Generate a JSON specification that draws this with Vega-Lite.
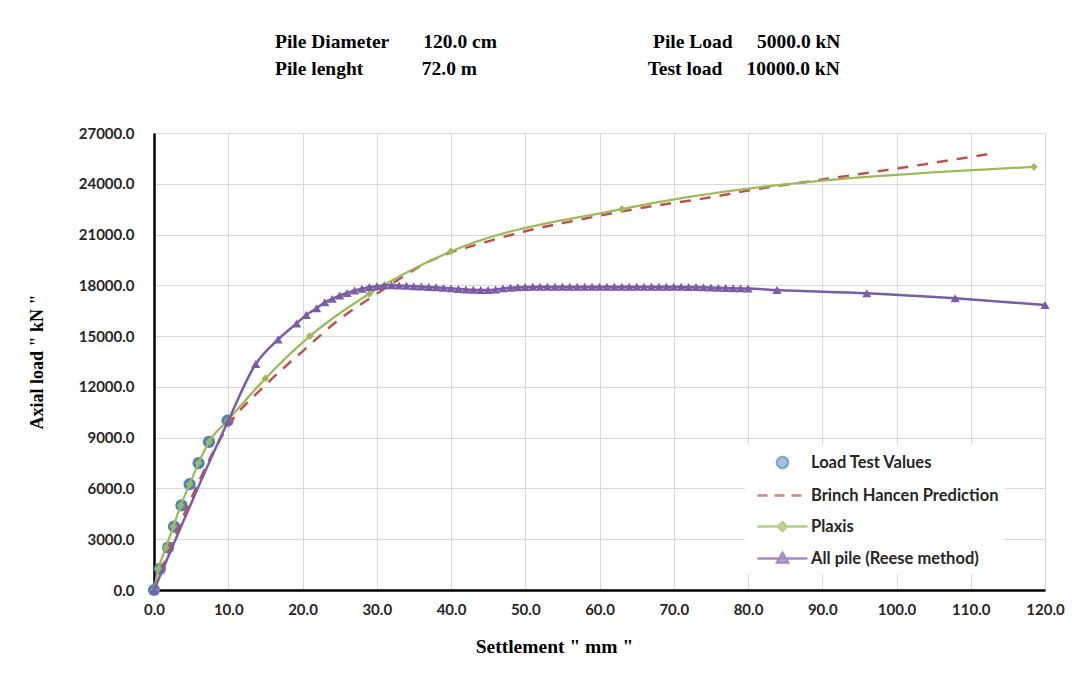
{
  "$schema": "https://vega.github.io/schema/vega-lite/v6.json",
  "width": 891,
  "height": 457,
  "autosize": {"type": "none"},
  "padding": {"left": 154, "top": 133, "right": 37, "bottom": 90},
  "background": "white",
  "title": {
    "text": [
      "Pile Diameter\u00a0\u00a0\u00a0\u00a0\u00a0\u00a0\u00a0120.0 cm\u00a0\u00a0\u00a0\u00a0\u00a0\u00a0\u00a0\u00a0\u00a0\u00a0\u00a0\u00a0\u00a0\u00a0\u00a0\u00a0\u00a0\u00a0\u00a0\u00a0\u00a0\u00a0\u00a0\u00a0\u00a0\u00a0\u00a0\u00a0\u00a0\u00a0\u00a0\u00a0Pile Load\u00a0\u00a0\u00a0\u00a0\u00a05000.0 kN",
      "Pile lenght\u00a0\u00a0\u00a0\u00a0\u00a0\u00a0\u00a0\u00a0\u00a0\u00a0\u00a0\u00a072.0 m\u00a0\u00a0\u00a0\u00a0\u00a0\u00a0\u00a0\u00a0\u00a0\u00a0\u00a0\u00a0\u00a0\u00a0\u00a0\u00a0\u00a0\u00a0\u00a0\u00a0\u00a0\u00a0\u00a0\u00a0\u00a0\u00a0\u00a0\u00a0\u00a0\u00a0\u00a0\u00a0\u00a0\u00a0\u00a0Test load\u00a0\u00a0\u00a0\u00a0\u00a010000.0 kN"
    ],
    "anchor": "start",
    "frame": "group",
    "align": "left",
    "dx": 121,
    "offset": 28,
    "baseline": "bottom",
    "font": "Liberation Serif",
    "fontSize": 19.5,
    "fontWeight": "bold",
    "color": "black",
    "lineHeight": 27
  },
  "datasets": {
    "main": [
      {"s": "Load Test Values", "x": 0, "y": 0},
      {"s": "Load Test Values", "x": 0.8, "y": 1250},
      {"s": "Load Test Values", "x": 1.9, "y": 2500},
      {"s": "Load Test Values", "x": 2.7, "y": 3750},
      {"s": "Load Test Values", "x": 3.7, "y": 5000},
      {"s": "Load Test Values", "x": 4.8, "y": 6250},
      {"s": "Load Test Values", "x": 6.0, "y": 7500},
      {"s": "Load Test Values", "x": 7.4, "y": 8750},
      {"s": "Load Test Values", "x": 9.9, "y": 10000},

      {"s": "Brinch Hancen Prediction", "x": 0, "y": 0},
      {"s": "Brinch Hancen Prediction", "x": 2, "y": 2300},
      {"s": "Brinch Hancen Prediction", "x": 5, "y": 5400},
      {"s": "Brinch Hancen Prediction", "x": 10, "y": 9700},
      {"s": "Brinch Hancen Prediction", "x": 15, "y": 12100},
      {"s": "Brinch Hancen Prediction", "x": 20, "y": 14100},
      {"s": "Brinch Hancen Prediction", "x": 25, "y": 16000},
      {"s": "Brinch Hancen Prediction", "x": 30, "y": 17500},
      {"s": "Brinch Hancen Prediction", "x": 37.5, "y": 19500},
      {"s": "Brinch Hancen Prediction", "x": 45, "y": 20600},
      {"s": "Brinch Hancen Prediction", "x": 50, "y": 21200},
      {"s": "Brinch Hancen Prediction", "x": 57, "y": 21850},
      {"s": "Brinch Hancen Prediction", "x": 66, "y": 22600},
      {"s": "Brinch Hancen Prediction", "x": 75, "y": 23200},
      {"s": "Brinch Hancen Prediction", "x": 80, "y": 23600},
      {"s": "Brinch Hancen Prediction", "x": 90, "y": 24250},
      {"s": "Brinch Hancen Prediction", "x": 100, "y": 24900},
      {"s": "Brinch Hancen Prediction", "x": 113, "y": 25800},

      {"s": "Plaxis", "x": 0, "y": 0},
      {"s": "Plaxis", "x": 0.6, "y": 1250},
      {"s": "Plaxis", "x": 1.6, "y": 2500},
      {"s": "Plaxis", "x": 2.6, "y": 3750},
      {"s": "Plaxis", "x": 3.6, "y": 5000},
      {"s": "Plaxis", "x": 4.8, "y": 6250},
      {"s": "Plaxis", "x": 6.0, "y": 7500},
      {"s": "Plaxis", "x": 7.4, "y": 8750},
      {"s": "Plaxis", "x": 9.9, "y": 10000},
      {"s": "Plaxis", "x": 15, "y": 12500},
      {"s": "Plaxis", "x": 21, "y": 15000},
      {"s": "Plaxis", "x": 29, "y": 17500},
      {"s": "Plaxis", "x": 40, "y": 20000},
      {"s": "Plaxis", "x": 63, "y": 22500},
      {"s": "Plaxis", "x": 118.5, "y": 25000},

      {"s": "All pile (Reese method)", "x": 0, "y": 0},
      {"s": "All pile (Reese method)", "x": 10, "y": 10000},
      {"s": "All pile (Reese method)", "x": 13.7, "y": 13350},
      {"s": "All pile (Reese method)", "x": 16.7, "y": 14800},
      {"s": "All pile (Reese method)", "x": 19.2, "y": 15750},
      {"s": "All pile (Reese method)", "x": 20.5, "y": 16250},
      {"s": "All pile (Reese method)", "x": 21.9, "y": 16650},
      {"s": "All pile (Reese method)", "x": 23, "y": 17000},
      {"s": "All pile (Reese method)", "x": 24, "y": 17200},
      {"s": "All pile (Reese method)", "x": 25, "y": 17400},
      {"s": "All pile (Reese method)", "x": 26, "y": 17550},
      {"s": "All pile (Reese method)", "x": 27, "y": 17700},
      {"s": "All pile (Reese method)", "x": 28, "y": 17800},
      {"s": "All pile (Reese method)", "x": 29, "y": 17900},
      {"s": "All pile (Reese method)", "x": 30, "y": 17950},
      {"s": "All pile (Reese method)", "x": 31, "y": 18000},
      {"s": "All pile (Reese method)", "x": 32, "y": 18000},
      {"s": "All pile (Reese method)", "x": 33, "y": 17990},
      {"s": "All pile (Reese method)", "x": 34, "y": 17970},
      {"s": "All pile (Reese method)", "x": 35, "y": 17950},
      {"s": "All pile (Reese method)", "x": 36, "y": 17930},
      {"s": "All pile (Reese method)", "x": 37, "y": 17900},
      {"s": "All pile (Reese method)", "x": 38, "y": 17880},
      {"s": "All pile (Reese method)", "x": 39, "y": 17850},
      {"s": "All pile (Reese method)", "x": 40, "y": 17820},
      {"s": "All pile (Reese method)", "x": 41, "y": 17790},
      {"s": "All pile (Reese method)", "x": 42, "y": 17760},
      {"s": "All pile (Reese method)", "x": 43, "y": 17740},
      {"s": "All pile (Reese method)", "x": 44, "y": 17730},
      {"s": "All pile (Reese method)", "x": 45, "y": 17730},
      {"s": "All pile (Reese method)", "x": 46, "y": 17760},
      {"s": "All pile (Reese method)", "x": 47, "y": 17820},
      {"s": "All pile (Reese method)", "x": 48, "y": 17860},
      {"s": "All pile (Reese method)", "x": 49, "y": 17880},
      {"s": "All pile (Reese method)", "x": 50, "y": 17900},
      {"s": "All pile (Reese method)", "x": 51, "y": 17910},
      {"s": "All pile (Reese method)", "x": 52, "y": 17920},
      {"s": "All pile (Reese method)", "x": 53, "y": 17920},
      {"s": "All pile (Reese method)", "x": 54, "y": 17920},
      {"s": "All pile (Reese method)", "x": 55, "y": 17920},
      {"s": "All pile (Reese method)", "x": 56, "y": 17920},
      {"s": "All pile (Reese method)", "x": 57, "y": 17920},
      {"s": "All pile (Reese method)", "x": 58, "y": 17920},
      {"s": "All pile (Reese method)", "x": 59, "y": 17920},
      {"s": "All pile (Reese method)", "x": 60, "y": 17920},
      {"s": "All pile (Reese method)", "x": 61, "y": 17920},
      {"s": "All pile (Reese method)", "x": 62, "y": 17920},
      {"s": "All pile (Reese method)", "x": 63, "y": 17920},
      {"s": "All pile (Reese method)", "x": 64, "y": 17920},
      {"s": "All pile (Reese method)", "x": 65, "y": 17920},
      {"s": "All pile (Reese method)", "x": 66, "y": 17920},
      {"s": "All pile (Reese method)", "x": 67, "y": 17920},
      {"s": "All pile (Reese method)", "x": 68, "y": 17920},
      {"s": "All pile (Reese method)", "x": 69, "y": 17920},
      {"s": "All pile (Reese method)", "x": 70, "y": 17910},
      {"s": "All pile (Reese method)", "x": 71, "y": 17910},
      {"s": "All pile (Reese method)", "x": 72, "y": 17900},
      {"s": "All pile (Reese method)", "x": 73, "y": 17900},
      {"s": "All pile (Reese method)", "x": 74, "y": 17890},
      {"s": "All pile (Reese method)", "x": 75, "y": 17870},
      {"s": "All pile (Reese method)", "x": 76, "y": 17850},
      {"s": "All pile (Reese method)", "x": 77, "y": 17840},
      {"s": "All pile (Reese method)", "x": 78, "y": 17830},
      {"s": "All pile (Reese method)", "x": 79, "y": 17820},
      {"s": "All pile (Reese method)", "x": 80, "y": 17810},
      {"s": "All pile (Reese method)", "x": 83.9, "y": 17720},
      {"s": "All pile (Reese method)", "x": 96, "y": 17530},
      {"s": "All pile (Reese method)", "x": 107.9, "y": 17230},
      {"s": "All pile (Reese method)", "x": 120, "y": 16840}
    ]
  },
  "data": {"name": "main"},
  "encoding": {
    "x": {
      "field": "x",
      "type": "quantitative",
      "scale": {"domain": [0, 120], "nice": false, "zero": false},
      "axis": {
        "title": "Settlement \" mm \"",
        "values": [0, 10, 20, 30, 40, 50, 60, 70, 80, 90, 100, 110, 120],
        "format": ".1f",
        "labelPadding": 12,
        "titlePadding": 20,
        "titleFontSize": 19.5,
        "titleX": 400,
        "titleAlign": "center"
      }
    },
    "y": {
      "field": "y",
      "type": "quantitative",
      "scale": {"domain": [0, 27000], "nice": false, "zero": false},
      "axis": {
        "title": "Axial load \" kN \"",
        "values": [0, 3000, 6000, 9000, 12000, 15000, 18000, 21000, 24000, 27000],
        "format": ".1f",
        "labelPadding": 20,
        "titlePadding": 32,
        "titleFontSize": 18
      }
    }
  },
  "config": {
    "view": {"stroke": null},
    "axis": {
      "grid": true,
      "gridColor": "#d9d9d9",
      "gridWidth": 1,
      "domainColor": "black",
      "domainWidth": 2.5,
      "ticks": false,
      "labelFont": "Lato",
      "labelFontSize": 15,
      "labelFontWeight": "bold",
      "labelColor": "#262626",
      "labelFlush": false,
      "labelOverlap": false,
      "titleFont": "Liberation Serif",
      "titleFontWeight": "bold",
      "titleColor": "black"
    },
    "legend": {
      "orient": "none",
      "legendX": 591,
      "legendY": 312,
      "fillColor": "white",
      "padding": 6,
      "symbolSize": 400,
      "symbolStrokeWidth": 2.5,
      "symbolOffset": 20,
      "labelOffset": 17,
      "rowPadding": 11,
      "labelFont": "Lato",
      "labelFontSize": 16.5,
      "labelFontWeight": "bold",
      "labelColor": "#262626",
      "labelLimit": 400
    }
  },
  "layer": [
    {
      "transform": [{"filter": "datum.s === 'Load Test Values'"}],
      "mark": {"type": "point", "filled": true, "shape": "circle", "size": 150, "color": "#4F81BD", "opacity": 1}
    },
    {
      "transform": [{"filter": "datum.s === 'Brinch Hancen Prediction'"}],
      "mark": {"type": "line", "color": "#C0504D", "strokeWidth": 2.5, "strokeDash": [11, 9], "interpolate": "monotone"}
    },
    {
      "transform": [{"filter": "datum.s === 'Plaxis'"}],
      "mark": {"type": "line", "color": "#9BBB59", "strokeWidth": 2.25, "interpolate": "monotone"}
    },
    {
      "transform": [{"filter": "datum.s === 'Plaxis'"}],
      "mark": {"type": "point", "filled": true, "shape": "diamond", "size": 60, "color": "#9BBB59", "opacity": 1}
    },
    {
      "transform": [{"filter": "datum.s === 'All pile (Reese method)'"}],
      "mark": {"type": "line", "color": "#7B5CA6", "strokeWidth": 2.5, "interpolate": "monotone"}
    },
    {
      "transform": [{"filter": "datum.s === 'All pile (Reese method)'"}],
      "mark": {"type": "point", "filled": true, "shape": "triangle-up", "size": 85, "color": "#7B5CA6", "opacity": 1}
    },
    {
      "transform": [{"filter": "datum.x < -1"}],
      "mark": {"type": "point", "filled": true},
      "encoding": {
        "fill": {
          "field": "s",
          "type": "nominal",
          "scale": {
            "domain": ["Load Test Values", "Brinch Hancen Prediction", "Plaxis", "All pile (Reese method)"],
            "range": ["#4F81BD", "#C0504D", "#9BBB59", "#7B5CA6"]
          },
          "legend": {"title": null}
        },
        "stroke": {
          "field": "s",
          "type": "nominal",
          "scale": {
            "domain": ["Load Test Values", "Brinch Hancen Prediction", "Plaxis", "All pile (Reese method)"],
            "range": ["#4F81BD", "#C0504D", "#9BBB59", "#7B5CA6"]
          },
          "legend": {"title": null}
        },
        "shape": {
          "field": "s",
          "type": "nominal",
          "scale": {
            "domain": ["Load Test Values", "Brinch Hancen Prediction", "Plaxis", "All pile (Reese method)"],
            "range": [
              "M-0.55,0A0.55,0.55,0,1,1,0.55,0A0.55,0.55,0,1,1,-0.55,0Z",
              "M-2.5,0H2.5",
              "M-2.5,0H2.5M0,-0.45L0.45,0L0,0.45L-0.45,0Z",
              "M-2.5,0H2.5M0,-0.55L0.55,0.4L-0.55,0.4Z"
            ]
          },
          "legend": {"title": null}
        },
        "strokeDash": {
          "field": "s",
          "type": "nominal",
          "scale": {
            "domain": ["Load Test Values", "Brinch Hancen Prediction", "Plaxis", "All pile (Reese method)"],
            "range": [[1, 0], [10, 7], [1, 0], [1, 0]]
          },
          "legend": {"title": null}
        }
      }
    }
  ]
}
